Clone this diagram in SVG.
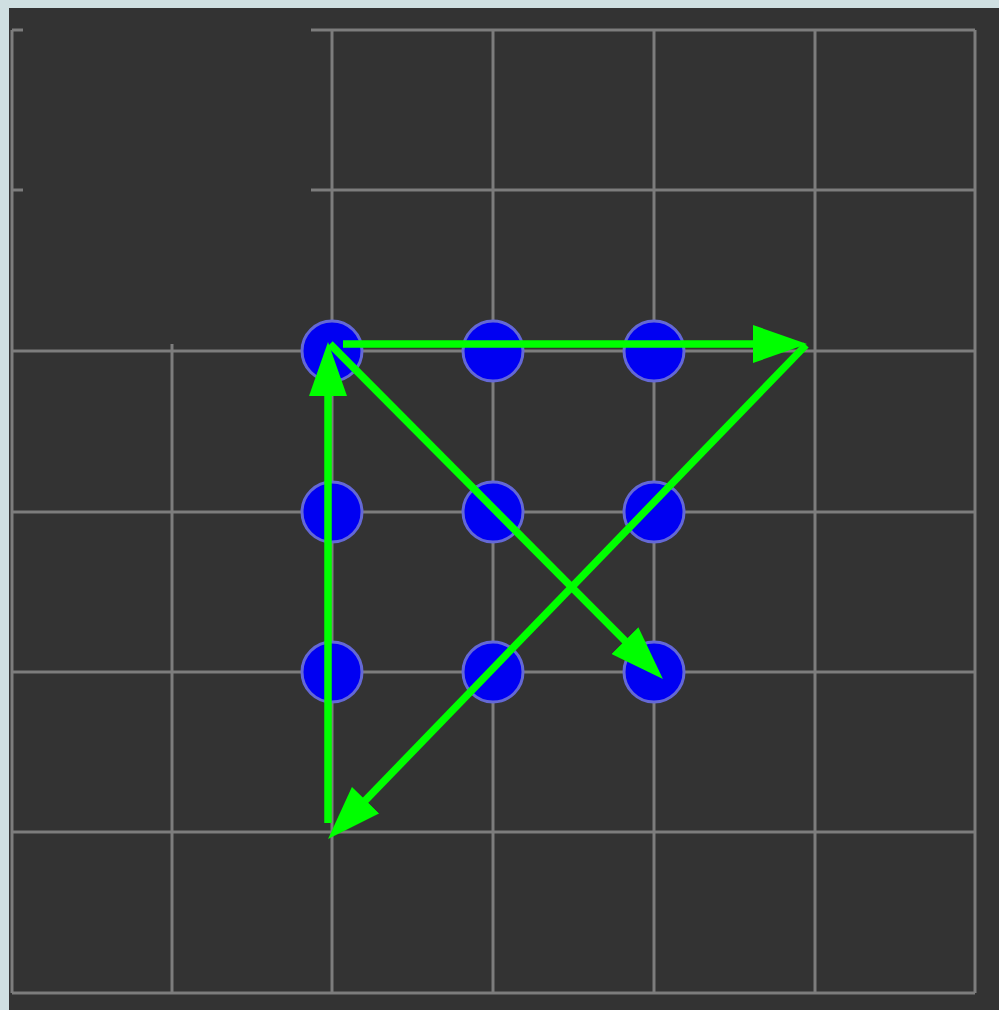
<svg xmlns="http://www.w3.org/2000/svg" width="999" height="1010" viewBox="0 0 999 1010">
  <defs>
    <style>
      .grid { stroke: #7d7d7d; stroke-width: 3; fill: none; }
      .dot { fill: #0000f2; stroke: #6468d6; stroke-width: 3; }
      .arrow { stroke: #00ff00; stroke-width: 7.5; fill: none; marker-end: url(#head); }
    </style>
    <marker id="head" viewBox="0 0 54 38" refX="24" refY="19" markerWidth="54" markerHeight="38" markerUnits="userSpaceOnUse" orient="auto">
      <polygon points="0,0 54,19 0,38" fill="#00ff00"/>
    </marker>
  </defs>
  <rect x="0" y="0" width="999" height="1010" fill="#cfdfe1"/>
  <rect x="9" y="8" width="990" height="1002" fill="#333333"/>
  <g id="grid">
    <path class="grid" d="M12,30 V993 M172,30 V993 M332,30 V993 M493,30 V993 M654,30 V993 M815,30 V993 M975,30 V993"/>
    <path class="grid" d="M12,30 H975 M12,190 H975 M12,351 H975 M12,512 H975 M12,672 H975 M12,832 H975 M12,993 H975"/>
  </g>
  <rect id="blank-area" x="23" y="8" width="288" height="336" fill="#333333"/>
  <g id="dot-1-1"><circle class="dot" cx="332" cy="351" r="30"/></g>
  <g id="dot-1-2"><circle class="dot" cx="493" cy="351" r="30"/></g>
  <g id="dot-1-3"><circle class="dot" cx="654" cy="351" r="30"/></g>
  <g id="dot-2-1"><circle class="dot" cx="332" cy="512" r="30"/></g>
  <g id="dot-2-2"><circle class="dot" cx="493" cy="512" r="30"/></g>
  <g id="dot-2-3"><circle class="dot" cx="654" cy="512" r="30"/></g>
  <g id="dot-3-1"><circle class="dot" cx="332" cy="672" r="30"/></g>
  <g id="dot-3-2"><circle class="dot" cx="493" cy="672" r="30"/></g>
  <g id="dot-3-3"><circle class="dot" cx="654" cy="672" r="30"/></g>
  <g id="connectors">
    <line class="arrow" x1="328" y1="823" x2="328" y2="372"/>
    <line class="arrow" x1="343" y1="344" x2="777" y2="344"/>
    <line class="arrow" x1="806" y1="345" x2="348.9" y2="817.4"/>
    <line class="arrow" x1="330" y1="344" x2="641.8" y2="657.7"/>
  </g>
</svg>
